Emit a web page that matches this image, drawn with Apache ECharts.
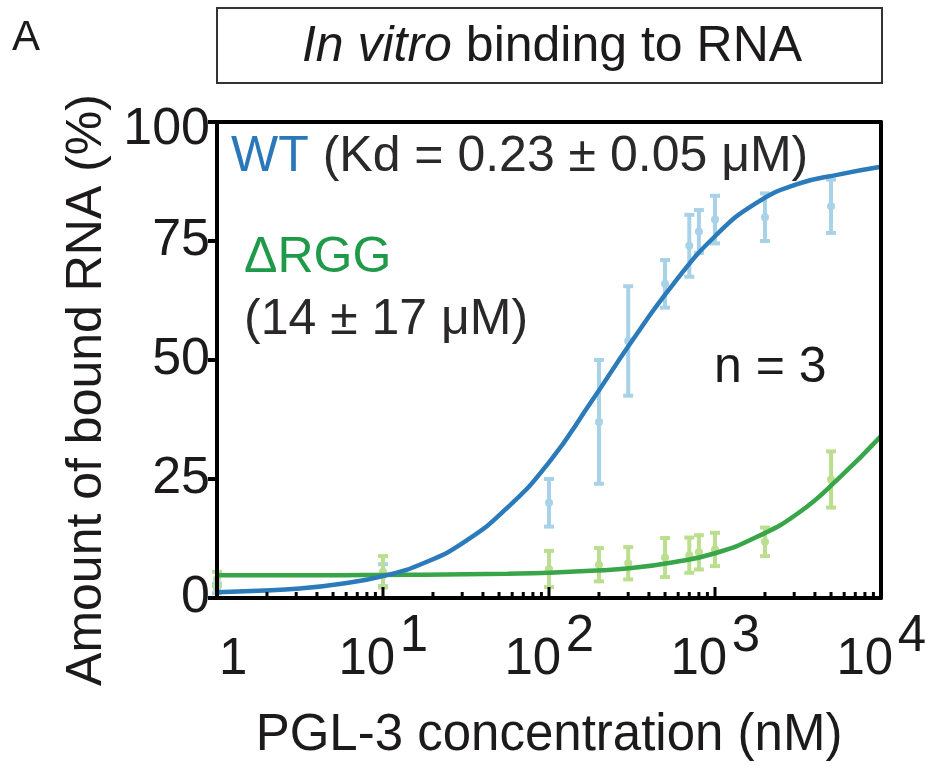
<!DOCTYPE html>
<html>
<head>
<meta charset="utf-8">
<script src="https://cdn.jsdelivr.net/npm/echarts@6/dist/echarts.min.js"></script>
<style>
  html, body { margin: 0; padding: 0; background: #fff; }
  #chart { width: 925px; height: 766px; }
</style>
</head>
<body>
<div id="chart"></div>
<script>
// PGL-3 concentrations (nM) used in the binding assay
const conc = [1, 10, 100, 200, 300, 500, 700, 800, 1000, 2000, 5000];
// Bound RNA (%), mean and SD, n = 3
const wtMean = [2, 4.8, 20, 37, 54, 66, 74, 77, 79.5, 80, 82.3];
const wtSd = [1, 2.3, 5, 13, 11.5, 5, 6.5, 4.5, 5, 5, 5.6];
const rggMean = [4, 5.5, 6.1, 7, 7.3, 8.5, 9, 9.6, 10.2, 11.8, 24.9];
const rggSd = [1.5, 3.3, 3.8, 3.5, 3.4, 4.1, 3.7, 3.6, 3.5, 3, 5.9];

// Fitted binding curves, sampled every quarter decade
const fitConc = [1, 1.78, 3.16, 5.62, 10, 17.8, 31.6, 56.2, 100, 178, 316, 562, 1000, 1778, 3162, 5623, 10000];
const wtFit = [1.2, 1.5, 2.0, 3.0, 4.6, 7.4, 12, 19, 28.5, 41, 54, 66, 76, 83, 87, 89, 90.6];
const rggFit = [4.8, 4.8, 4.8, 4.8, 4.85, 4.9, 5.0, 5.1, 5.3, 5.7, 6.3, 7.5, 9.4, 12.8, 17.8, 25.3, 34];

// Axis ticks
const yTicks = [0, 25, 50, 75, 100];
const minorTicks = [2, 3, 4, 5, 6, 7, 8, 9, 20, 30, 40, 50, 60, 70, 80, 90,
  200, 300, 400, 500, 600, 700, 800, 900, 2000, 3000, 4000, 5000, 6000, 7000, 8000, 9000];
const majorTicks = [10, 100, 1000];

const FONT = '"Liberation Sans", Arial, Helvetica, sans-serif';
const INK = '#1c1a1b';
const WT_LINE = '#2b7bbb';
const WT_PT = '#a8d2e7';
const RGG_LINE = '#38a548';
const RGG_PT = '#bcdf8f';
const LABEL_SIZE = 51;

const chart = echarts.init(document.getElementById('chart'), null, { renderer: 'canvas' });

function errorBars(color) {
  return function (params, api) {
    const x = api.value(0), m = api.value(1), s = api.value(2);
    const top = api.coord([x, m + s]);
    const bot = api.coord([x, m - s]);
    const c = api.coord([x, m]);
    const cap = 5;
    const st = { stroke: color, lineWidth: 4 };
    return {
      type: 'group',
      children: [
        { type: 'line', shape: { x1: top[0], y1: top[1], x2: bot[0], y2: bot[1] }, style: st },
        { type: 'line', shape: { x1: top[0] - cap, y1: top[1], x2: top[0] + cap, y2: top[1] }, style: st },
        { type: 'line', shape: { x1: bot[0] - cap, y1: bot[1], x2: bot[0] + cap, y2: bot[1] }, style: st },
        { type: 'circle', shape: { cx: c[0], cy: c[1], r: 4 }, style: { fill: color } }
      ]
    };
  };
}

function bottomTicks(len) {
  return function (params, api) {
    const p = api.coord([api.value(0), 0]);
    return {
      type: 'line',
      shape: { x1: p[0], y1: p[1], x2: p[0], y2: p[1] - len },
      style: { stroke: '#000', lineWidth: 3 }
    };
  };
}

const frameLine = { show: true, onZero: false, lineStyle: { color: '#000', width: 4 } };
// widths used to lay the decade base "10" and its exponent side by side
const baseW = LABEL_SIZE * 0.556 * 2 + 5;
const expW = LABEL_SIZE * 0.556 + 4;

const option = {
  animation: false,
  textStyle: { fontFamily: FONT },
  grid: { left: 217, right: 44, top: 122, bottom: 168, outerBoundsMode: 'none', containLabel: false },
  xAxis: [{
    // decade bases
    type: 'log', logBase: 10, min: 1, max: 10000, z: 5,
    name: 'PGL-3 concentration (nM)', nameLocation: 'middle', nameGap: 112,
    nameTextStyle: { fontSize: 51, color: INK, fontFamily: FONT },
    axisLine: frameLine,
    axisTick: { show: false },
    splitLine: { show: false },
    axisLabel: {
      margin: 36,
      color: INK,
      formatter: function (v) {
        if (v === 1) return '{g| }{b|1}';
        return '{b|10}{g| }';
      },
      rich: {
        b: { fontSize: LABEL_SIZE, fontFamily: FONT, color: INK },
        g: { fontSize: LABEL_SIZE, width: expW }
      }
    }
  }, {
    // exponents, raised above the bases
    type: 'log', logBase: 10, min: 1, max: 10000, position: 'bottom', z: 5,
    axisLine: { show: false }, axisTick: { show: false }, splitLine: { show: false },
    axisLabel: {
      margin: 13,
      color: INK,
      formatter: function (v) {
        if (v === 1) return '';
        return '{h| }{s|' + Math.round(Math.log10(v)) + '}';
      },
      rich: {
        s: { fontSize: LABEL_SIZE, fontFamily: FONT, color: INK },
        h: { fontSize: LABEL_SIZE, width: baseW }
      }
    }
  }, {
    type: 'log', logBase: 10, min: 1, max: 10000, position: 'top', z: 5,
    axisLine: frameLine,
    axisTick: { show: false }, axisLabel: { show: false }, splitLine: { show: false }
  }],
  yAxis: [{
    type: 'value', min: 0, max: 100, interval: 25, z: 5,
    name: 'Amount of bound RNA (%)', nameLocation: 'middle', nameGap: 104,
    nameTextStyle: { fontSize: 50, color: INK, fontFamily: FONT, padding: [0, 60, 0, 0] },
    axisLine: frameLine,
    axisTick: { show: true, inside: false, length: 9, lineStyle: { color: '#000', width: 4 } },
    splitLine: { show: false },
    axisLabel: {
      margin: 7, color: INK, customValues: yTicks,
      formatter: function (v) { return v === 100 ? '{top|100}' : '{n|' + v + '}'; },
      rich: {
        n: { fontSize: 52, fontFamily: FONT, color: INK },
        top: { fontSize: 52, fontFamily: FONT, color: INK, padding: [16, 0, 0, 0] }
      }
    }
  }, {
    type: 'value', min: 0, max: 100, position: 'right', z: 5,
    axisLine: frameLine,
    axisTick: { show: false }, axisLabel: { show: false }, splitLine: { show: false }
  }],
  series: [
    {
      type: 'custom', name: 'WT points', z: 2,
      renderItem: errorBars(WT_PT),
      data: conc.map((c, i) => [c, wtMean[i], wtSd[i]])
    },
    {
      type: 'custom', name: 'ΔRGG points', z: 2,
      renderItem: errorBars(RGG_PT),
      data: conc.map((c, i) => [c, rggMean[i], rggSd[i]])
    },
    {
      type: 'line', name: 'ΔRGG fit', z: 3, smooth: true, showSymbol: false,
      lineStyle: { color: RGG_LINE, width: 4.5 },
      data: fitConc.map((c, i) => [c, rggFit[i]])
    },
    {
      type: 'line', name: 'WT fit', z: 4, smooth: true, showSymbol: false,
      lineStyle: { color: WT_LINE, width: 4.5 },
      data: fitConc.map((c, i) => [c, wtFit[i]])
    },
    {
      type: 'custom', name: 'minor ticks', z: 6, silent: true, clip: false,
      renderItem: bottomTicks(6),
      data: minorTicks.map(v => [v])
    },
    {
      type: 'custom', name: 'major ticks', z: 6, silent: true, clip: false,
      renderItem: bottomTicks(11),
      data: majorTicks.map(v => [v])
    }
  ],
  graphic: [
    { type: 'text', x: 12, y: 38,
      style: { text: 'A', font: '42px ' + FONT, fill: INK, verticalAlign: 'middle' } },
    { type: 'rect', shape: { x: 217, y: 8, width: 665, height: 75 },
      style: { fill: 'none', stroke: '#333', lineWidth: 2 } },
    { type: 'text', x: 552, y: 47,
      style: {
        text: '{i|In vitro }{n|binding to RNA}',
        align: 'center', verticalAlign: 'middle',
        rich: {
          i: { fontSize: 50, fontStyle: 'italic', fontFamily: FONT, fill: INK },
          n: { fontSize: 50, fontFamily: FONT, fill: INK }
        }
      } },
    { type: 'text', x: 231, y: 157, z: 10,
      style: {
        text: '{w|WT }{k|(Kd = 0.23 ± 0.05 μM)}',
        verticalAlign: 'middle',
        rich: {
          w: { fontSize: 50, fontFamily: FONT, fill: '#2a78b9' },
          k: { fontSize: 50, fontFamily: FONT, fill: '#2b2829' }
        }
      } },
    { type: 'text', x: 244, y: 258, z: 10,
      style: { text: 'ΔRGG', font: '50px ' + FONT, fill: '#1f9a49', verticalAlign: 'middle' } },
    { type: 'text', x: 244, y: 320, z: 10,
      style: { text: '(14 ± 17 μM)', font: '50px ' + FONT, fill: '#2b2829', verticalAlign: 'middle' } },
    { type: 'text', x: 714, y: 368, z: 10,
      style: { text: 'n = 3', font: '50px ' + FONT, fill: INK, verticalAlign: 'middle' } }
  ]
};

chart.setOption(option);
</script>
</body>
</html>
